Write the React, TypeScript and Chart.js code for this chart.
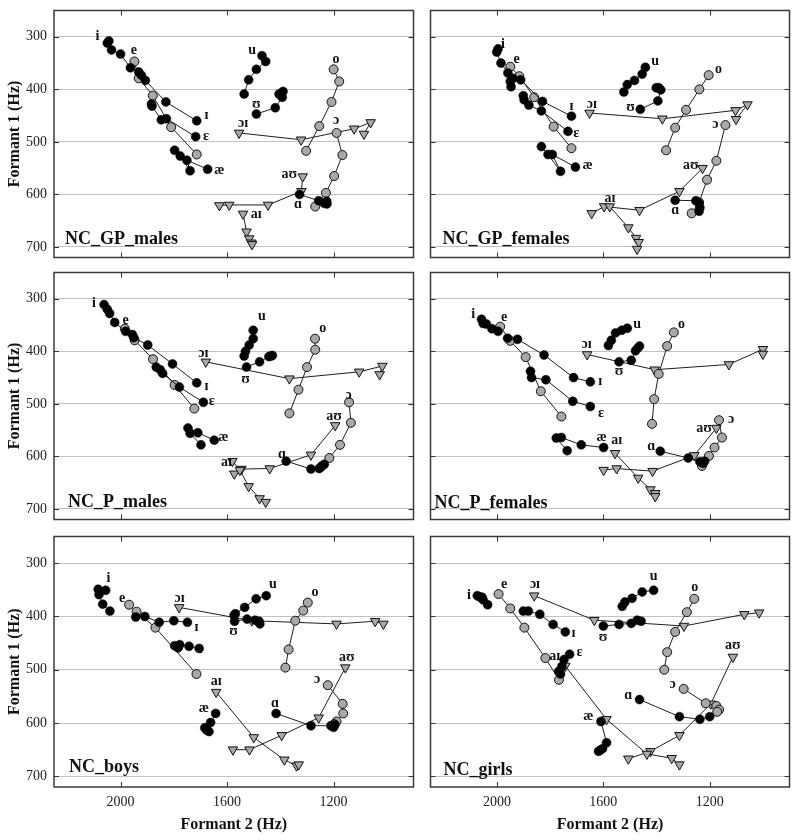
import React, { useEffect, useRef } from "react";
import { Chart, registerables } from "chart.js";

Chart.register(...registerables);

type Pt = [number, number]; // [F2, F1]
type Lbl = [string, number, number];

const SERIF = "'Liberation Serif', 'Times New Roman', 'DejaVu Serif', serif";

const VOWELS = ["i", "ɪ", "e", "ɛ", "æ", "u", "ʊ", "o", "ɔ", "ɑ", "aɪ", "aʊ", "ɔɪ"];
const GRAY_VOWELS = ["e", "o", "ɔ"];
const DIPHTHONGS = ["aɪ", "aʊ", "ɔɪ"];
const X_TICKS = [2000, 1600, 1200];
const Y_TICKS = [300, 400, 500, 600, 700];
const X_RANGE = [900, 2250];
const Y_RANGE = [250, 720];

const gpMales: Record<string, Pt[]> = {
  i: [[2044, 308], [2050, 312], [2034, 325], [2000, 333], [1963, 359]],
  "ɪ": [[1714, 460], [1830, 424], [1907, 383], [1922, 373], [1932, 367]],
  "ɛ": [[1718, 490], [1828, 456], [1847, 458], [1882, 432], [1884, 428]],
  e: [[1948, 347], [1932, 379], [1879, 412], [1810, 472], [1714, 524]],
  "æ": [[1797, 516], [1776, 527], [1739, 555], [1751, 535], [1673, 552]],
  u: [[1536, 409], [1519, 382], [1490, 362], [1455, 347], [1469, 336]],
  "ʊ": [[1490, 447], [1419, 435], [1393, 415], [1405, 409], [1390, 404]],
  o: [[1200, 362], [1179, 385], [1208, 424], [1254, 470], [1303, 517]],
  "ɔ": [[1189, 483], [1167, 525], [1198, 565], [1229, 597], [1269, 623]],
  "ɑ": [[1328, 600], [1256, 612], [1235, 617], [1226, 613], [1225, 618]],
  "aʊ": [[1629, 621], [1592, 620], [1446, 620], [1321, 594], [1316, 566]],
  "aɪ": [[1540, 637], [1527, 671], [1517, 684], [1509, 692], [1506, 695]],
  "ɔɪ": [[1555, 483], [1322, 496], [1123, 475], [1061, 463], [1086, 485]],
};
const gpMalesLabels: Lbl[] = [
  ["i", 2087, 299], ["e", 1950, 325], ["ɪ", 1677, 449], ["ɛ", 1679, 490], ["æ", 1629, 555],
  ["u", 1506, 325], ["ʊ", 1490, 428], ["o", 1191, 343], ["ɔ", 1191, 460], ["ɑ", 1334, 618],
  ["aʊ", 1366, 561], ["aɪ", 1490, 638], ["ɔɪ", 1540, 465],
];

const gpFemales: Record<string, Pt[]> = {
  i: [[1996, 323], [2001, 329], [1985, 350], [1959, 369], [1950, 385]],
  "ɪ": [[1720, 451], [1829, 423], [1911, 382], [1940, 379], [1947, 395]],
  "ɛ": [[1733, 480], [1833, 441], [1880, 430], [1898, 420], [1901, 412]],
  e: [[1950, 357], [1916, 375], [1860, 415], [1787, 471], [1720, 512]],
  "æ": [[1833, 509], [1808, 524], [1761, 556], [1792, 524], [1705, 548]],
  u: [[1523, 405], [1510, 391], [1483, 383], [1454, 371], [1442, 358]],
  "ʊ": [[1461, 438], [1395, 422], [1384, 401], [1392, 397], [1401, 397]],
  o: [[1204, 373], [1239, 400], [1289, 439], [1330, 473], [1364, 516]],
  "ɔ": [[1141, 468], [1175, 536], [1210, 572], [1240, 615], [1268, 636]],
  "ɑ": [[1330, 611], [1252, 612], [1240, 617], [1237, 625], [1240, 632]],
  "aʊ": [[1644, 636], [1597, 623], [1464, 630], [1314, 594], [1227, 550]],
  "aɪ": [[1576, 623], [1506, 663], [1477, 683], [1467, 691], [1473, 704]],
  "ɔɪ": [[1652, 445], [1378, 456], [1103, 440], [1058, 429], [1101, 457]],
};
const gpFemalesLabels: Lbl[] = [
  ["i", 1978, 315], ["e", 1926, 343], ["ɪ", 1720, 432], ["ɛ", 1702, 483], ["æ", 1659, 544],
  ["u", 1405, 346], ["ʊ", 1498, 435], ["o", 1167, 362], ["ɔ", 1179, 467], ["ɑ", 1330, 630],
  ["aʊ", 1271, 544], ["aɪ", 1575, 608], ["ɔɪ", 1643, 428],
];

const pMales: Record<string, Pt[]> = {
  i: [[2062, 311], [2050, 320], [2041, 328], [2022, 345], [1981, 362]],
  "ɪ": [[1714, 460], [1805, 424], [1898, 388], [1950, 374], [1956, 368]],
  "ɛ": [[1689, 497], [1779, 468], [1842, 442], [1851, 435], [1866, 430]],
  e: [[1984, 357], [1947, 379], [1878, 415], [1797, 464], [1723, 509]],
  "æ": [[1698, 578], [1739, 556], [1747, 546], [1710, 555], [1648, 569]],
  u: [[1536, 409], [1531, 400], [1517, 388], [1502, 376], [1502, 360]],
  "ʊ": [[1527, 430], [1478, 420], [1443, 410], [1436, 409], [1430, 408]],
  o: [[1270, 376], [1269, 397], [1300, 430], [1332, 473], [1366, 518]],
  "ɔ": [[1142, 497], [1135, 536], [1176, 578], [1216, 603], [1247, 620]],
  "ɑ": [[1378, 609], [1285, 624], [1254, 623], [1244, 618], [1235, 615]],
  "aʊ": [[1573, 633], [1546, 624], [1440, 623], [1285, 597], [1194, 541]],
  "aɪ": [[1580, 609], [1552, 626], [1519, 657], [1478, 680], [1455, 687]],
  "ɔɪ": [[1680, 420], [1366, 452], [1104, 439], [1017, 428], [1027, 444]],
};
const pMalesLabels: Lbl[] = [
  ["i", 2100, 308], ["e", 1981, 341], ["ɪ", 1677, 467], ["ɛ", 1658, 496], ["æ", 1614, 564],
  ["u", 1469, 333], ["ʊ", 1531, 454], ["o", 1241, 357], ["ɔ", 1144, 484], ["ɑ", 1394, 596],
  ["aʊ", 1198, 523], ["aɪ", 1602, 612], ["ɔɪ", 1689, 404],
];

const pFemales: Record<string, Pt[]> = {
  i: [[2058, 339], [2052, 347], [2040, 348], [2019, 357], [1996, 362]],
  e: [[1988, 353], [1950, 380], [1892, 411], [1835, 476], [1758, 524]],
  "ɪ": [[1649, 458], [1712, 450], [1823, 407], [1923, 377], [1960, 375]],
  "ɛ": [[1649, 505], [1715, 495], [1816, 454], [1870, 450], [1874, 438]],
  "æ": [[1736, 589], [1777, 565], [1758, 564], [1683, 578], [1599, 583]],
  u: [[1581, 389], [1570, 379], [1554, 365], [1531, 360], [1510, 356]],
  "ʊ": [[1541, 420], [1495, 417], [1479, 399], [1471, 394], [1464, 390]],
  o: [[1335, 364], [1360, 390], [1392, 443], [1409, 491], [1417, 538]],
  "ɔ": [[1165, 531], [1154, 564], [1182, 583], [1203, 599], [1229, 618]],
  "ɑ": [[1386, 590], [1281, 603], [1237, 610], [1225, 613], [1219, 609]],
  "aʊ": [[1175, 546], [1258, 598], [1415, 628], [1550, 623], [1599, 626]],
  "aɪ": [[1556, 594], [1469, 641], [1423, 663], [1405, 670], [1405, 676]],
  "ɔɪ": [[1661, 406], [1407, 435], [1128, 425], [1000, 396], [1000, 405]],
};
const pFemalesLabels: Lbl[] = [
  ["i", 2089, 330], ["e", 1973, 336], ["ɪ", 1612, 458], ["ɛ", 1609, 518], ["æ", 1607, 564],
  ["u", 1473, 348], ["ʊ", 1541, 439], ["o", 1306, 348], ["ɔ", 1120, 530], ["ɑ", 1420, 580],
  ["aʊ", 1221, 547], ["aɪ", 1550, 569], ["ɔɪ", 1663, 386],
];

const boys: Record<string, Pt[]> = {
  i: [[2084, 349], [2056, 351], [2081, 359], [2067, 377], [2040, 390]],
  e: [[1968, 378], [1940, 391], [1869, 421], [1715, 508]],
  "ɪ": [[1943, 401], [1909, 400], [1855, 411], [1800, 408], [1749, 411]],
  "ɛ": [[1797, 455], [1784, 459], [1778, 453], [1743, 456], [1705, 460]],
  "æ": [[1643, 582], [1662, 599], [1684, 609], [1677, 613], [1668, 616]],
  u: [[1574, 398], [1569, 395], [1534, 383], [1491, 367], [1453, 361]],
  "ʊ": [[1572, 409], [1525, 405], [1495, 407], [1480, 409], [1477, 414]],
  o: [[1297, 374], [1314, 389], [1344, 408], [1369, 462], [1381, 496]],
  "ɔ": [[1222, 529], [1166, 564], [1164, 582], [1189, 597], [1198, 602]],
  "ɑ": [[1416, 582], [1285, 605], [1210, 605], [1200, 608], [1195, 603]],
  "aʊ": [[1156, 496], [1256, 590], [1395, 623], [1516, 650], [1578, 650]],
  "aɪ": [[1641, 542], [1500, 627], [1385, 669], [1339, 680], [1331, 678]],
  "ɔɪ": [[1780, 383], [1507, 408], [1189, 414], [1044, 409], [1013, 414]],
};
const boysLabels: Lbl[] = [
  ["i", 2046, 329], ["e", 1994, 366], ["ɪ", 1715, 420], ["ɛ", 1703, 462], ["æ", 1687, 573],
  ["u", 1428, 340], ["ʊ", 1576, 428], ["o", 1270, 355], ["ɔ", 1262, 519], ["ɑ", 1420, 563],
  ["aʊ", 1150, 476], ["aɪ", 1641, 521], ["ɔɪ", 1778, 366],
];

const girls: Record<string, Pt[]> = {
  i: [[2074, 361], [2066, 363], [2056, 364], [2052, 369], [2035, 378]],
  e: [[1994, 358], [1950, 385], [1897, 421], [1818, 478], [1767, 519]],
  "ɪ": [[1901, 390], [1882, 390], [1839, 396], [1789, 415], [1743, 429]],
  "ɛ": [[1727, 471], [1748, 481], [1756, 494], [1768, 503], [1761, 508]],
  "æ": [[1609, 597], [1588, 637], [1603, 648], [1612, 651], [1618, 653]],
  u: [[1411, 351], [1454, 354], [1492, 366], [1519, 373], [1529, 381]],
  "ʊ": [[1600, 418], [1541, 415], [1495, 413], [1473, 407], [1458, 409]],
  o: [[1258, 367], [1286, 392], [1330, 429], [1360, 467], [1371, 500]],
  "ɔ": [[1298, 536], [1215, 563], [1175, 568], [1165, 575], [1172, 579]],
  "ɑ": [[1464, 556], [1314, 588], [1237, 593], [1200, 588]],
  "aʊ": [[1113, 476], [1196, 564], [1314, 623], [1423, 653], [1506, 667]],
  "aɪ": [[1743, 493], [1588, 593], [1436, 658], [1343, 666], [1314, 678]],
  "ɔɪ": [[1860, 361], [1634, 407], [1297, 418], [1070, 396], [1014, 393]],
};
const girlsLabels: Lbl[] = [
  ["i", 2105, 360], ["e", 1973, 339], ["ɪ", 1712, 431], ["ɛ", 1690, 467], ["æ", 1657, 587],
  ["u", 1411, 325], ["ʊ", 1601, 439], ["o", 1256, 345], ["ɔ", 1340, 528], ["ɑ", 1506, 548],
  ["aʊ", 1113, 455], ["aɪ", 1783, 475], ["ɔɪ", 1857, 339],
];

const PANEL_TITLES = ["NC_GP_males", "NC_GP_females", "NC_P_males", "NC_P_females", "NC_boys", "NC_girls"];
const PANEL_DATA = [gpMales, gpFemales, pMales, pFemales, boys, girls];
const PANEL_LABELS = [gpMalesLabels, gpFemalesLabels, pMalesLabels, pFemalesLabels, boysLabels, girlsLabels];

// layout (pixels)
const COLS = [
  { left: 0, width: 420, axisW: 54, padR: 2 },
  { left: 424, width: 372, axisW: 6, padR: 4 },
];
const ROWS = [
  { top: 4, height: 260, axisH: 3 },
  { top: 266, height: 260, axisH: 3 },
  { top: 530, height: 310, axisH: 53 },
];
const TITLE_OFFSETS = [[11, 14], [12, 14], [14, 13], [4, 12], [15, 15], [13, 12]];

function makeConfig(idx: number): any {
  const col = idx % 2;
  const row = Math.floor(idx / 2);
  const isLeft = col === 0;
  const isBottom = row === 2;
  const data = PANEL_DATA[idx];
  const labels = PANEL_LABELS[idx];
  const title = PANEL_TITLES[idx];
  const [tdx, tdy] = TITLE_OFFSETS[idx];

  const datasets = VOWELS.filter((v) => data[v]).map((v) => {
    const kind = DIPHTHONGS.includes(v) ? "tri" : GRAY_VOWELS.includes(v) ? "gray" : "black";
    return {
      label: v,
      data: data[v].map(([x, y]) => ({ x, y })),
      showLine: true,
      borderColor: "#1e1e1e",
      borderWidth: 1,
      pointStyle: kind === "tri" ? "triangle" : "circle",
      pointRotation: kind === "tri" ? 180 : 0,
      pointRadius: kind === "tri" ? 5.5 : 4.5,
      pointBackgroundColor: kind === "black" ? "#000" : "#a8a8a8",
      pointBorderColor: "#111",
      pointBorderWidth: kind === "black" ? 0.5 : 1,
      order: kind === "black" ? 0 : 1,
    };
  });

  const decor = {
    id: "decor" + idx,
    afterDatasetsDraw(chart: any) {
      const { ctx, chartArea: a } = chart;
      const x = chart.scales.x;
      const y = chart.scales.y;
      ctx.save();
      ctx.fillStyle = "#111";
      ctx.font = `bold 14px ${SERIF}`;
      ctx.textAlign = "center";
      ctx.textBaseline = "middle";
      for (const [t, f2, f1] of labels) {
        ctx.fillText(t, x.getPixelForValue(f2), y.getPixelForValue(f1));
      }
      ctx.font = `bold 18px ${SERIF}`;
      ctx.textAlign = "left";
      ctx.textBaseline = "alphabetic";
      ctx.fillText(title, a.left + tdx, a.bottom - tdy);

      ctx.strokeStyle = "#333";
      ctx.lineWidth = 1;
      ctx.beginPath();
      for (const v of X_TICKS) {
        const px = Math.round(x.getPixelForValue(v)) + 0.5;
        ctx.moveTo(px, a.top);
        ctx.lineTo(px, a.top + 5);
        ctx.moveTo(px, a.bottom);
        ctx.lineTo(px, a.bottom - 5);
      }
      for (const v of Y_TICKS) {
        const py = Math.round(y.getPixelForValue(v)) + 0.5;
        ctx.moveTo(a.left, py);
        ctx.lineTo(a.left + 5, py);
        ctx.moveTo(a.right, py);
        ctx.lineTo(a.right - 5, py);
      }
      ctx.stroke();
      ctx.lineWidth = 1.5;
      ctx.strokeStyle = "#3a3a3a";
      ctx.strokeRect(a.left, a.top, a.right - a.left, a.bottom - a.top);
      ctx.restore();
    },
  };

  return {
    type: "scatter",
    data: { datasets },
    plugins: [decor],
    options: {
      animation: false,
      responsive: false,
      events: [],
      layout: { padding: { left: 0, right: COLS[col].padR, top: 3, bottom: 0 } },
      plugins: { legend: { display: false }, tooltip: { enabled: false } },
      scales: {
        x: {
          type: "linear",
          reverse: true,
          min: X_RANGE[0],
          max: X_RANGE[1],
          afterBuildTicks: (s: any) => {
            s.ticks = X_TICKS.map((v) => ({ value: v }));
          },
          afterFit: (s: any) => {
            s.height = ROWS[row].axisH;
            s.paddingLeft = 0;
            s.paddingRight = 0;
            s.paddingTop = 0;
            s.paddingBottom = 0;
          },
          grid: { display: false, drawTicks: false },
          border: { display: false },
          ticks: {
            display: isBottom,
            maxRotation: 0,
            padding: 7,
            color: "#222",
            font: { family: SERIF, size: 14 },
            callback: (v: any) => String(v),
          },
          title: {
            display: isBottom,
            text: "Formant 2 (Hz)",
            color: "#111",
            font: { family: SERIF, size: 16, weight: "bold" },
            padding: { top: 0, bottom: 6 },
          },
        },
        y: {
          type: "linear",
          reverse: true,
          min: Y_RANGE[0],
          max: Y_RANGE[1],
          afterBuildTicks: (s: any) => {
            s.ticks = Y_TICKS.map((v) => ({ value: v }));
          },
          afterFit: (s: any) => {
            s.width = COLS[col].axisW;
            s.paddingLeft = 0;
            s.paddingRight = 0;
            s.paddingTop = 0;
            s.paddingBottom = 0;
          },
          grid: { color: "#c2c2c2", lineWidth: 1, drawTicks: false },
          border: { display: false },
          ticks: {
            display: isLeft,
            padding: 7,
            color: "#222",
            font: { family: SERIF, size: 14 },
            callback: (v: any) => String(v),
          },
          title: {
            display: isLeft,
            text: "Formant 1 (Hz)",
            color: "#111",
            font: { family: SERIF, size: 16, weight: "bold" },
            padding: { top: 5, bottom: 0 },
          },
        },
      },
    },
  };
}

function Panel({ idx }: { idx: number }) {
  const ref = useRef<HTMLCanvasElement>(null);
  const col = COLS[idx % 2];
  const row = ROWS[Math.floor(idx / 2)];
  useEffect(() => {
    if (!ref.current) return;
    const chart = new Chart(ref.current, makeConfig(idx));
    return () => chart.destroy();
  }, [idx]);
  return (
    <canvas
      ref={ref}
      width={col.width}
      height={row.height}
      style={{ position: "absolute", left: col.left, top: row.top, width: col.width, height: row.height }}
    />
  );
}

export default function App() {
  Chart.defaults.font.family = SERIF;
  return (
    <div style={{ position: "absolute", left: 0, top: 0, width: 800, height: 840, background: "#fff" }}>
      {PANEL_TITLES.map((_, i) => (
        <Panel key={i} idx={i} />
      ))}
    </div>
  );
}
